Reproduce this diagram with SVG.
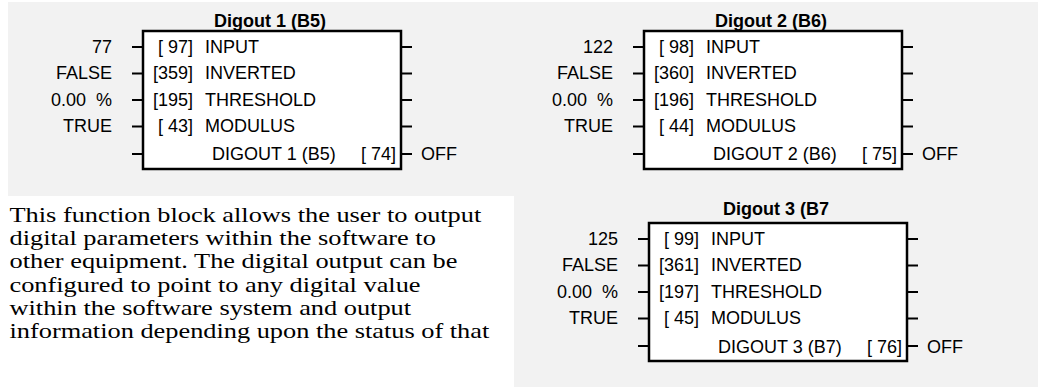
<svg xmlns="http://www.w3.org/2000/svg" xmlns:xlink="http://www.w3.org/1999/xlink" width="1038" height="387" viewBox="0 0 1038 387">
<style>
.t{font-family:"Liberation Sans",Arial,sans-serif;font-size:18px;fill:#000}
.ttl{font-family:"Liberation Sans",Arial,sans-serif;font-size:18px;font-weight:bold;fill:#000;text-anchor:middle}
.e{text-anchor:end}
.box{fill:#fff;stroke:#000;stroke-width:2.5}
.pin{stroke:#000;stroke-width:2;fill:none}
.p{font-family:"Liberation Serif","Times New Roman",serif;font-size:20px;fill:#000}
</style>
<defs>
<g id="frame">
<rect class="box" x="0" y="0" width="258" height="138"/>
<path class="pin" d="M-11 16H-1M-11 42.5H-1M-11 69H-1M-11 95.5H-1M-11 123H-1M259 16H269M259 42.5H269M259 69H269M259 95.5H269M259 123H269"/>
</g>
</defs>
<rect x="0" y="0" width="1038" height="387" fill="#fff"/>
<rect x="8" y="2" width="1030" height="385" fill="#f2f2f2"/>
<rect x="0" y="196" width="514" height="191" fill="#fff"/>

<g id="digout1" transform="translate(143,31)">
<use xlink:href="#frame" href="#frame"/>
<text class="ttl" x="127" y="-4">Digout 1 (B5)</text>
<text class="t e" x="-31" y="21.5">77</text>
<text class="t e" x="-31" y="48">FALSE</text>
<text class="t e" x="-31" y="74.5">0.00&#160; %</text>
<text class="t e" x="-31" y="101">TRUE</text>
<text class="t e" x="50" y="21.5">[ 97]</text>
<text class="t e" x="50" y="48">[359]</text>
<text class="t e" x="50" y="74.5">[195]</text>
<text class="t e" x="50" y="101">[ 43]</text>
<text class="t" x="62" y="21.5">INPUT</text>
<text class="t" x="62" y="48">INVERTED</text>
<text class="t" x="62" y="74.5">THRESHOLD</text>
<text class="t" x="62" y="101">MODULUS</text>
<text class="t" x="69" y="129">DIGOUT 1 (B5)</text>
<text class="t e" x="253" y="129">[ 74]</text>
<text class="t" x="278" y="129">OFF</text>
</g>

<g id="digout2" transform="translate(644,31)">
<use xlink:href="#frame" href="#frame"/>
<text class="ttl" x="127" y="-4">Digout 2 (B6)</text>
<text class="t e" x="-31" y="21.5">122</text>
<text class="t e" x="-31" y="48">FALSE</text>
<text class="t e" x="-31" y="74.5">0.00&#160; %</text>
<text class="t e" x="-31" y="101">TRUE</text>
<text class="t e" x="50" y="21.5">[ 98]</text>
<text class="t e" x="50" y="48">[360]</text>
<text class="t e" x="50" y="74.5">[196]</text>
<text class="t e" x="50" y="101">[ 44]</text>
<text class="t" x="62" y="21.5">INPUT</text>
<text class="t" x="62" y="48">INVERTED</text>
<text class="t" x="62" y="74.5">THRESHOLD</text>
<text class="t" x="62" y="101">MODULUS</text>
<text class="t" x="69" y="129">DIGOUT 2 (B6)</text>
<text class="t e" x="253" y="129">[ 75]</text>
<text class="t" x="278" y="129">OFF</text>
</g>

<g id="digout3" transform="translate(649,223)">
<use xlink:href="#frame" href="#frame"/>
<text class="ttl" x="127" y="-8">Digout 3 (B7</text>
<text class="t e" x="-31" y="21.5">125</text>
<text class="t e" x="-31" y="48">FALSE</text>
<text class="t e" x="-31" y="74.5">0.00&#160; %</text>
<text class="t e" x="-31" y="101">TRUE</text>
<text class="t e" x="50" y="21.5">[ 99]</text>
<text class="t e" x="50" y="48">[361]</text>
<text class="t e" x="50" y="74.5">[197]</text>
<text class="t e" x="50" y="101">[ 45]</text>
<text class="t" x="62" y="21.5">INPUT</text>
<text class="t" x="62" y="48">INVERTED</text>
<text class="t" x="62" y="74.5">THRESHOLD</text>
<text class="t" x="62" y="101">MODULUS</text>
<text class="t" x="69" y="130">DIGOUT 3 (B7)</text>
<text class="t e" x="253" y="130">[ 76]</text>
<text class="t" x="278" y="130">OFF</text>
</g>

<g id="description" transform="translate(9.5,0) scale(1.318,1)">
<text class="p" x="0" y="222">This function block allows the user to output</text>
<text class="p" x="0" y="245">digital parameters within the software to</text>
<text class="p" x="0" y="268.3">other equipment. The digital output can be</text>
<text class="p" x="0" y="291.7">configured to point to any digital value</text>
<text class="p" x="0" y="315">within the software system and output</text>
<text class="p" x="0" y="338.3">information depending upon the status of that</text>
</g>
<g id="connectors"/>
</svg>
